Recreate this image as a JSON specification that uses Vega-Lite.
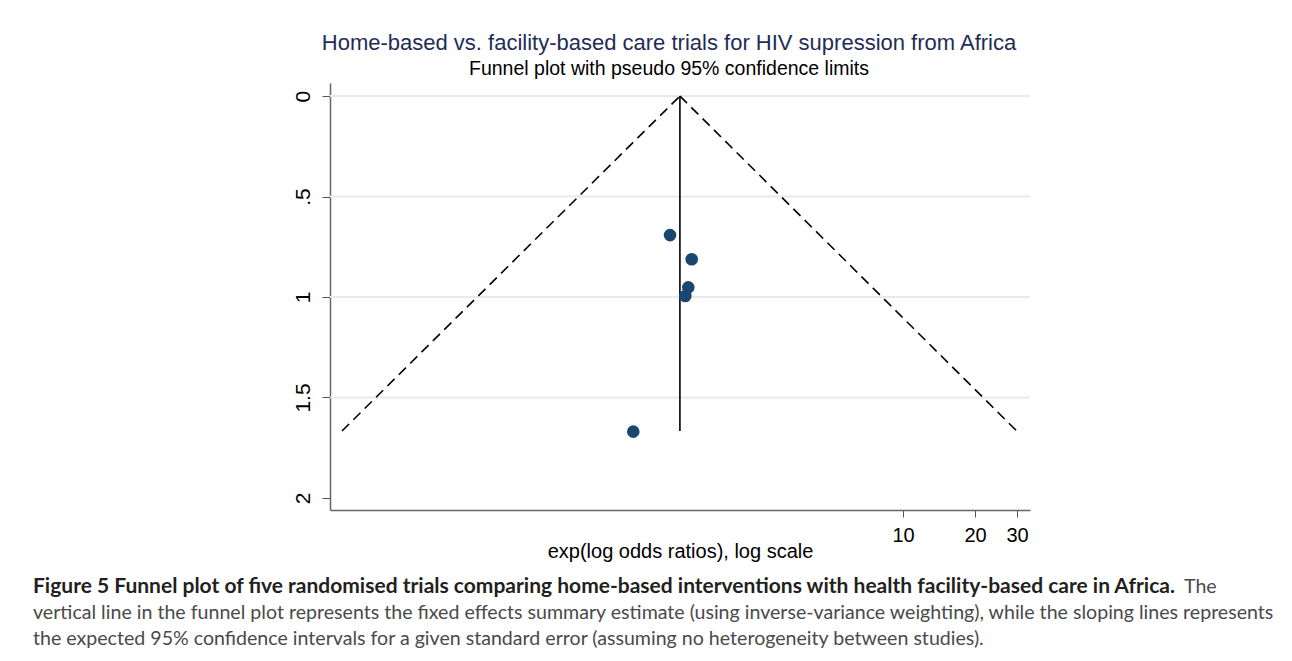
{
  "$schema": "https://vega.github.io/schema/vega-lite/v6.json",
  "background": "white",
  "padding": {"left": 33, "top": 31, "right": 0, "bottom": 0},
  "center": true,
  "bounds": "flush",
  "spacing": 64,
  "config": {"view": {"stroke": null}, "font": "Liberation Sans"},
  "vconcat": [
    {
      "width": 700,
      "height": 427,
      "title": {
        "text": "Home-based vs. facility-based care trials for HIV supression from Africa",
        "subtitle": "Funnel plot with pseudo 95% confidence limits",
        "fontSize": 22,
        "fontWeight": "normal",
        "font": "Liberation Sans",
        "color": "#1f2d56",
        "subtitleFont": "Liberation Sans",
        "subtitleFontSize": 19.5,
        "subtitleColor": "black",
        "subtitlePadding": 5,
        "offset": 4,
        "dx": -11,
        "anchor": "middle"
      },
      "layer": [
        {
          "data": {"values": [{"se": 0}, {"se": 0.5}, {"se": 1}, {"se": 1.5}]},
          "mark": {"type": "rule", "color": "#e3ebef", "strokeWidth": 2},
          "encoding": {
            "y": {
              "field": "se",
              "type": "quantitative",
              "scale": {"domain": [-0.065, 2.06], "reverse": true, "nice": false, "zero": false},
              "axis": {
                "values": [0, 0.5, 1, 1.5, 2],
                "format": "~g",
                "labelExpr": "datum.value == 0.5 ? '.5' : datum.label",
                "labelAngle": 270,
                "labelFontSize": 21,
                "labelColor": "black",
                "labelPadding": 9,
                "tickSize": 8,
                "tickColor": "#555555",
                "domainColor": "#666666",
                "domainWidth": 1.5,
                "grid": false,
                "title": null
              }
            }
          }
        },
        {
          "data": {"values": [
            {"side": "lower", "or": 0.045, "se": 1.667},
            {"side": "lower", "or": 1.166, "se": 0},
            {"side": "upper", "or": 1.166, "se": 0},
            {"side": "upper", "or": 29.9, "se": 1.667}
          ]},
          "mark": {"type": "line", "color": "black", "strokeDash": [10, 6], "strokeWidth": 1.6},
          "encoding": {
            "x": {
              "field": "or",
              "type": "quantitative",
              "scale": {"type": "log", "domain": [0.0401, 33.96], "nice": false},
              "axis": {
                "values": [10, 20, 30],
                "format": "d",
                "labelFontSize": 20,
                "labelColor": "black",
                "labelPadding": 8,
                "tickSize": 7,
                "tickColor": "#555555",
                "domainColor": "#666666",
                "domainWidth": 1.5,
                "grid": false,
                "title": "exp(log odds ratios), log scale",
                "titleFontSize": 20,
                "titleFontWeight": "normal",
                "titleColor": "black",
                "titlePadding": -4
              }
            },
            "y": {"field": "se", "type": "quantitative"},
            "detail": {"field": "side"}
          }
        },
        {
          "data": {"values": [{"or": 1.166, "se": 0, "se_end": 1.667}]},
          "mark": {"type": "rule", "color": "black", "strokeWidth": 1.6},
          "encoding": {
            "x": {"field": "or", "type": "quantitative"},
            "y": {"field": "se", "type": "quantitative"},
            "y2": {"field": "se_end"}
          }
        },
        {
          "data": {"values": [
            {"study": "A", "or": 1.06, "se": 0.692},
            {"study": "B", "or": 1.306, "se": 0.812},
            {"study": "C", "or": 1.264, "se": 0.952},
            {"study": "D", "or": 1.228, "se": 0.995},
            {"study": "E", "or": 0.744, "se": 1.67}
          ]},
          "mark": {"type": "point", "filled": true, "shape": "circle", "size": 160, "color": "#1a476f", "opacity": 1},
          "encoding": {
            "x": {"field": "or", "type": "quantitative"},
            "y": {"field": "se", "type": "quantitative"}
          }
        }
      ]
    },
    {
      "width": 1220,
      "height": 78,
      "data": {"values": [
        {"line": 1, "part": "bold", "text": "Figure 5 Funnel plot of five randomised trials comparing home-based interventions with health facility-based care in Africa."},
        {"line": 1, "part": "lead", "text": "The"},
        {"line": 2, "part": "regular", "text": "vertical line in the funnel plot represents the fixed effects summary estimate (using inverse-variance weighting), while the sloping lines represents"},
        {"line": 3, "part": "regular", "text": "the expected 95% confidence intervals for a given standard error (assuming no heterogeneity between studies)."}
      ]},
      "encoding": {
        "y": {"field": "line", "type": "ordinal", "axis": null},
        "text": {"field": "text"}
      },
      "layer": [
        {
          "transform": [{"filter": "datum.part == 'bold'"}],
          "mark": {"type": "text", "align": "left", "baseline": "middle", "x": 0, "dx": -37, "font": "Lato", "fontSize": 21, "fontWeight": "bold", "color": "#231f20"}
        },
        {
          "transform": [{"filter": "datum.part == 'lead'"}],
          "mark": {"type": "text", "align": "left", "baseline": "middle", "x": 0, "dx": 1114, "font": "Lato", "fontSize": 19.6, "color": "#4a4a4a"}
        },
        {
          "transform": [{"filter": "datum.part == 'regular'"}],
          "mark": {"type": "text", "align": "left", "baseline": "middle", "x": 0, "dx": -37, "font": "Lato", "fontSize": 19.6, "color": "#4a4a4a"}
        }
      ]
    }
  ]
}
